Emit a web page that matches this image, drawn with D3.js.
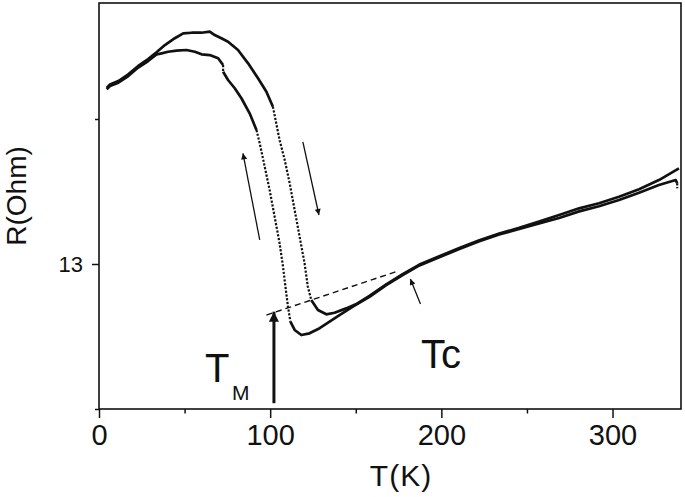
<!DOCTYPE html>
<html>
<head>
<meta charset="utf-8">
<script src="https://cdn.jsdelivr.net/npm/d3@7"></script>
<style>
  html, body { margin: 0; padding: 0; background: #fff; }
  svg { display: block; }
  text { font-family: "Liberation Sans", Arial, sans-serif; fill: #111; }
</style>
</head>
<body>
<svg id="chart" width="685" height="497"></svg>
<script>
// ---- data (T in K, R in axis units) ----
const tempA = [4.5, 6.4, 11.3, 17.1, 22.9, 28.7, 33.6, 36.6, 40.4, 45.3, 51.1, 56.0, 59.9, 64.7, 69.6, 72.5, 72.5, 75.4, 79.3, 83.2, 88.0, 92.0, 93.9, 96.8, 99.7, 102.6, 105.5, 107.5, 109.4, 110.4, 111.8, 114.3, 118.2, 123.0, 128.9, 134.7, 140.5, 148.3, 158.0, 167.8, 177.4, 187.2, 198.8, 210.5, 222.2, 233.8, 245.5, 257.1, 268.8, 280.5, 292.1, 303.8, 315.5, 327.1, 336.9, 337.8, 337.8];
const resA  = [14.205, 14.228, 14.250, 14.296, 14.355, 14.400, 14.445, 14.453, 14.464, 14.471, 14.476, 14.464, 14.446, 14.441, 14.419, 14.372, 14.326, 14.269, 14.212, 14.143, 14.039, 13.924, 13.832, 13.671, 13.510, 13.326, 13.143, 12.981, 12.798, 12.706, 12.602, 12.545, 12.510, 12.522, 12.557, 12.602, 12.648, 12.706, 12.774, 12.855, 12.924, 12.990, 13.046, 13.104, 13.157, 13.203, 13.242, 13.279, 13.317, 13.363, 13.398, 13.441, 13.492, 13.545, 13.579, 13.557, 13.522];

const tempB = [4.5, 6.4, 11.3, 17.1, 22.9, 28.7, 33.6, 38.5, 44.3, 49.2, 54.1, 59.9, 64.7, 67.6, 71.5, 75.4, 81.2, 87.1, 92.9, 97.8, 101.6, 105.5, 108.5, 111.4, 114.3, 117.2, 120.1, 122.0, 124.0, 127.9, 132.8, 137.6, 144.4, 150.0, 158.0, 167.8, 177.4, 187.2, 198.8, 210.5, 222.2, 233.8, 245.5, 257.1, 268.8, 280.5, 292.1, 303.8, 315.5, 327.1, 338.8];
const resB  = [14.215, 14.238, 14.262, 14.308, 14.366, 14.413, 14.460, 14.510, 14.557, 14.591, 14.595, 14.595, 14.602, 14.579, 14.557, 14.533, 14.476, 14.384, 14.281, 14.188, 14.085, 13.855, 13.717, 13.557, 13.372, 13.188, 13.005, 12.843, 12.752, 12.683, 12.653, 12.664, 12.694, 12.722, 12.780, 12.860, 12.930, 12.996, 13.053, 13.111, 13.164, 13.210, 13.249, 13.292, 13.338, 13.384, 13.419, 13.464, 13.515, 13.579, 13.660];

// dashed guide line (T, R)
const guideT = [97.8, 173.6];
const guideR = [12.648, 12.947];

// arrows: [T_tail, R_tail, T_tip, R_tip]
const arrowUp   = [93.9, 13.166, 84.1, 13.763];
const arrowDown = [119.1, 13.843, 128.5, 13.338];
const arrowTc   = [187.8, 12.724, 181.9, 12.897];
const arrowTM   = [102.2, 12.04, 102.2, 12.671];

// axis ticks
const xMajorTicks = [0, 100, 200, 300];
const xMinorTicks = [50, 150, 250];
const yMajorTicks = [13];
const yMinorTicks = [12, 14];

// ---- drawing ----
const svg = d3.select("#chart");
const mLeft = 99, mRight = 681, mTop = 3, mBottom = 409;
const x = d3.scaleLinear().domain([0, 340]).range([mLeft, mRight]);
const y = d3.scaleLinear().domain([12, 14.8]).range([mBottom, mTop]);

const defs = svg.append("defs");
defs.append("marker").attr("id", "headThin")
  .attr("viewBox", "0 0 10 10").attr("refX", 10).attr("refY", 5)
  .attr("markerWidth", 11).attr("markerHeight", 6).attr("markerUnits", "userSpaceOnUse")
  .attr("orient", "auto")
  .append("path").attr("d", "M0,0 L10,5 L0,10 Z").attr("fill", "#111");
defs.append("marker").attr("id", "headThick")
  .attr("viewBox", "0 0 10 10").attr("refX", 10).attr("refY", 5)
  .attr("markerWidth", 17).attr("markerHeight", 10).attr("markerUnits", "userSpaceOnUse")
  .attr("orient", "auto")
  .append("path").attr("d", "M0,0 L10,5 L0,10 Z").attr("fill", "#111");

// axes
const gx = svg.append("g").attr("transform", `translate(0,${mBottom})`)
  .call(d3.axisBottom(x).tickValues(xMajorTicks).tickSize(9).tickPadding(6).tickFormat(d3.format("d")));
gx.select(".domain").remove();
gx.selectAll("text").style("font-size", "29px").attr("font-family", "Liberation Sans, Arial, sans-serif").attr("fill", "#111");
gx.selectAll("line").attr("stroke", "#111").attr("stroke-width", 1.5);

const gxm = svg.append("g").attr("transform", `translate(0,${mBottom})`)
  .call(d3.axisBottom(x).tickValues(xMinorTicks).tickSize(4.5).tickFormat(""));
gxm.select(".domain").remove();
gxm.selectAll("line").attr("stroke", "#111").attr("stroke-width", 1.5);

const gy = svg.append("g").attr("transform", `translate(${mLeft},0)`)
  .call(d3.axisLeft(y).tickValues(yMajorTicks).tickSize(7).tickPadding(9).tickFormat(d3.format("d")));
gy.select(".domain").remove();
gy.selectAll("text").style("font-size", "22px").attr("font-family", "Liberation Sans, Arial, sans-serif").attr("fill", "#111");
gy.selectAll("line").attr("stroke", "#111").attr("stroke-width", 1.5);

const gym = svg.append("g").attr("transform", `translate(${mLeft},0)`)
  .call(d3.axisLeft(y).tickValues(yMinorTicks).tickSize(4).tickFormat(""));
gym.select(".domain").remove();
gym.selectAll("line").attr("stroke", "#111").attr("stroke-width", 1.5);

// frame
svg.append("rect").attr("x", mLeft).attr("y", mTop)
  .attr("width", mRight - mLeft).attr("height", mBottom - mTop)
  .attr("fill", "none").attr("stroke", "#111").attr("stroke-width", 1.6);

// axis titles
svg.append("text").attr("x", 401).attr("y", 486)
  .attr("text-anchor", "middle").style("font-size", "30px").style("letter-spacing", "1px")
  .text("T(K)");
svg.append("text").attr("transform", "translate(26,196) rotate(-90)")
  .attr("text-anchor", "middle").style("font-size", "28px")
  .text("R(Ohm)");

// curves: gentle parts solid, steep parts dotted (sparse data points)
const line = d3.line().x(d => x(d[0])).y(d => y(d[1]));
function drawSeries(s) {
  const runs = [];
  for (let i = 0; i < s.length - 1; i++) {
    const dx = Math.abs(x(s[i + 1][0]) - x(s[i][0]));
    const dy = Math.abs(y(s[i + 1][1]) - y(s[i][1]));
    const steep = dy > 3.2 * dx;
    const last = runs[runs.length - 1];
    if (last && last.steep === steep) last.pts.push(s[i + 1]);
    else runs.push({ steep, pts: [s[i], s[i + 1]] });
  }
  runs.forEach(r => {
    svg.append("path").datum(r.pts).attr("d", line)
      .attr("fill", "none").attr("stroke", "#111")
      .attr("stroke-width", r.steep ? 2.2 : 2.7)
      .attr("stroke-dasharray", r.steep ? "2.2,1.6" : null)
      .attr("stroke-linejoin", "round");
  });
}
drawSeries(tempA.map((t, i) => [t, resA[i]]));
drawSeries(tempB.map((t, i) => [t, resB[i]]));

// dashed guide
svg.append("path").datum(guideT.map((t, i) => [t, guideR[i]])).attr("d", line)
  .attr("fill", "none").attr("stroke", "#111").attr("stroke-width", 1.4)
  .attr("stroke-dasharray", "6,4");

// arrows
function arrow(a, w, marker) {
  svg.append("line")
    .attr("x1", x(a[0])).attr("y1", y(a[1]))
    .attr("x2", x(a[2])).attr("y2", y(a[3]))
    .attr("stroke", "#111").attr("stroke-width", w)
    .attr("marker-end", `url(#${marker})`);
}
arrow(arrowUp, 1.3, "headThin");
arrow(arrowDown, 1.3, "headThin");
arrow(arrowTc, 1.3, "headThin");
arrow(arrowTM, 3, "headThick");

// annotations
svg.append("text").attr("x", 205).attr("y", 381.5).style("font-size", "40px").text("T");
svg.append("text").attr("x", 232).attr("y", 400).style("font-size", "21px").text("M");
svg.append("text").attr("x", 421).attr("y", 368).style("font-size", "40px").text("Tc");
</script>
</body>
</html>
